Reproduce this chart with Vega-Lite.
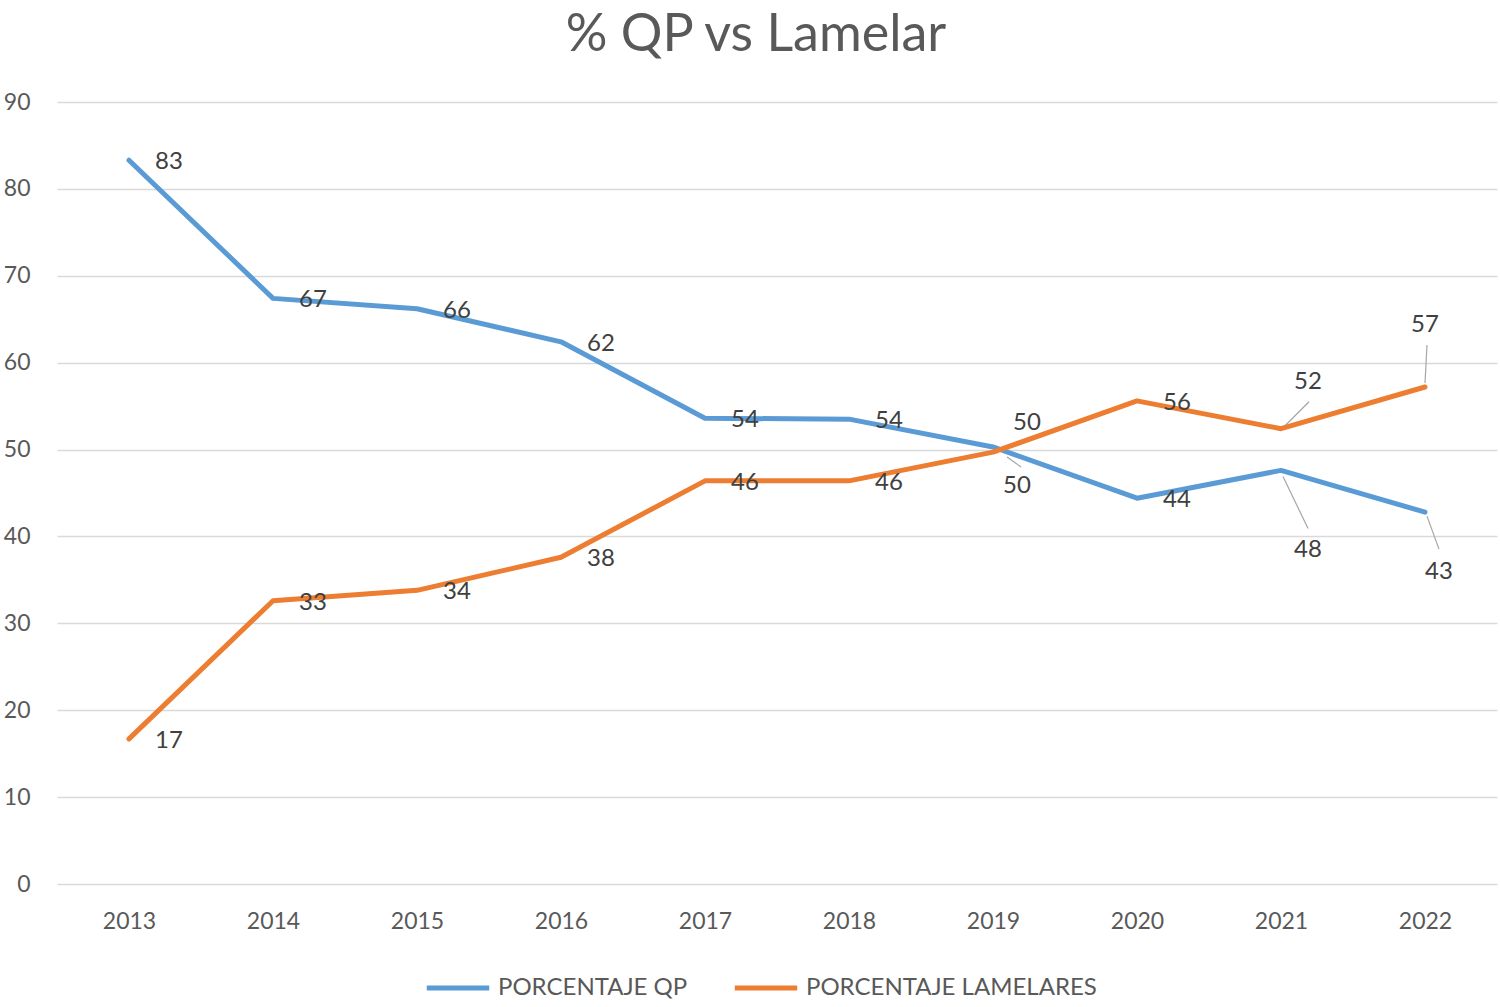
{
  "$schema": "https://vega.github.io/schema/vega-lite/v6.json",
  "width": 1440,
  "height": 782,
  "autosize": {"type": "none"},
  "padding": {"left": 57, "top": 102, "right": 3, "bottom": 123},
  "background": "white",
  "title": {"text": "% QP vs Lamelar", "fontSize": 52, "font": "Lato", "fontWeight": "normal", "color": "#595959", "anchor": "middle", "offset": 29, "dx": -21},
  "config": {
    "view": {"stroke": null},
    "font": "Lato",
    "axis": {"labelFont": "Lato", "labelColor": "#595959", "labelFontSize": 23, "ticks": false, "domain": false, "title": null},
    "legend": {"labelFont": "Lato", "labelColor": "#595959", "labelFontSize": 24, "labelLimit": 500}
  },
  "data": {"values": [
    {"year": "2013", "series": "PORCENTAJE QP", "value": 83.3},
    {"year": "2014", "series": "PORCENTAJE QP", "value": 67.4},
    {"year": "2015", "series": "PORCENTAJE QP", "value": 66.2},
    {"year": "2016", "series": "PORCENTAJE QP", "value": 62.4},
    {"year": "2017", "series": "PORCENTAJE QP", "value": 53.6},
    {"year": "2018", "series": "PORCENTAJE QP", "value": 53.5},
    {"year": "2019", "series": "PORCENTAJE QP", "value": 50.3},
    {"year": "2020", "series": "PORCENTAJE QP", "value": 44.4},
    {"year": "2021", "series": "PORCENTAJE QP", "value": 47.6},
    {"year": "2022", "series": "PORCENTAJE QP", "value": 42.8},
    {"year": "2013", "series": "PORCENTAJE LAMELARES", "value": 16.7},
    {"year": "2014", "series": "PORCENTAJE LAMELARES", "value": 32.6},
    {"year": "2015", "series": "PORCENTAJE LAMELARES", "value": 33.8},
    {"year": "2016", "series": "PORCENTAJE LAMELARES", "value": 37.6},
    {"year": "2017", "series": "PORCENTAJE LAMELARES", "value": 46.4},
    {"year": "2018", "series": "PORCENTAJE LAMELARES", "value": 46.4},
    {"year": "2019", "series": "PORCENTAJE LAMELARES", "value": 49.7},
    {"year": "2020", "series": "PORCENTAJE LAMELARES", "value": 55.6},
    {"year": "2021", "series": "PORCENTAJE LAMELARES", "value": 52.4},
    {"year": "2022", "series": "PORCENTAJE LAMELARES", "value": 57.2}
  ]},
  "encoding": {
    "x": {"field": "year", "type": "ordinal", "scale": {"type": "point", "padding": 0.5}, "axis": {"labelAngle": 0, "labelPadding": 26, "grid": false}},
    "y": {"field": "value", "type": "quantitative", "scale": {"domain": [0, 90], "nice": false}, "axis": {"values": [0,10,20,30,40,50,60,70,80,90], "grid": true, "gridColor": "#D9D9D9", "gridWidth": 1.5, "labelPadding": 27}}
  },
  "layer": [
    {"transform": [{"filter": "datum.series == 'PORCENTAJE QP' && datum.year == '2019'"}],
     "mark": {"type": "rule", "color": "#A6A6A6", "strokeWidth": 1.2, "xOffset": 14, "yOffset": 10, "x2Offset": 28, "y2Offset": 20},
     "encoding": {"x2": {"field": "year"}, "y2": {"field": "value"}}},
    {"transform": [{"filter": "datum.series == 'PORCENTAJE QP' && datum.year == '2021'"}],
     "mark": {"type": "rule", "color": "#A6A6A6", "strokeWidth": 1.2, "xOffset": 2, "yOffset": 6, "x2Offset": 27, "y2Offset": 58},
     "encoding": {"x2": {"field": "year"}, "y2": {"field": "value"}}},
    {"transform": [{"filter": "datum.series == 'PORCENTAJE QP' && datum.year == '2022'"}],
     "mark": {"type": "rule", "color": "#A6A6A6", "strokeWidth": 1.2, "xOffset": 2, "yOffset": 4, "x2Offset": 14, "y2Offset": 37},
     "encoding": {"x2": {"field": "year"}, "y2": {"field": "value"}}},
    {"transform": [{"filter": "datum.series == 'PORCENTAJE LAMELARES' && datum.year == '2021'"}],
     "mark": {"type": "rule", "color": "#A6A6A6", "strokeWidth": 1.2, "xOffset": 4, "yOffset": -3, "x2Offset": 28, "y2Offset": -27},
     "encoding": {"x2": {"field": "year"}, "y2": {"field": "value"}}},
    {"transform": [{"filter": "datum.series == 'PORCENTAJE LAMELARES' && datum.year == '2022'"}],
     "mark": {"type": "rule", "color": "#A6A6A6", "strokeWidth": 1.2, "xOffset": 0, "yOffset": -4, "x2Offset": 2, "y2Offset": -42},
     "encoding": {"x2": {"field": "year"}, "y2": {"field": "value"}}},
    {"mark": {"type": "line", "strokeWidth": 5, "strokeCap": "round", "strokeJoin": "round"},
     "encoding": {
       "color": {"field": "series", "type": "nominal", "scale": {"domain": ["PORCENTAJE QP", "PORCENTAJE LAMELARES"], "range": ["#5B9BD5", "#ED7D31"]},
         "legend": {"title": null, "orient": "none", "legendX": 367, "legendY": 852, "direction": "horizontal", "symbolType": "stroke", "symbolSize": 3900, "symbolStrokeWidth": 5, "columnPadding": 36, "labelOffset": 6}}
     }},
    {"transform": [{"filter": "datum.year != '2019' && datum.year != '2021' && datum.year != '2022'"}],
     "mark": {"type": "text", "fontSize": 24, "color": "#404040", "dx": 40, "dy": 2, "align": "center", "baseline": "middle"},
     "encoding": {"text": {"field": "value", "type": "quantitative", "format": ".0f"}}},
    {"transform": [{"filter": "datum.series == 'PORCENTAJE QP' && datum.year == '2019'"}],
     "mark": {"type": "text", "fontSize": 24, "color": "#404040", "dx": 24, "dy": 39, "align": "center", "baseline": "middle"},
     "encoding": {"text": {"field": "value", "type": "quantitative", "format": ".0f"}}},
    {"transform": [{"filter": "datum.series == 'PORCENTAJE LAMELARES' && datum.year == '2019'"}],
     "mark": {"type": "text", "fontSize": 24, "color": "#404040", "dx": 34, "dy": -29, "align": "center", "baseline": "middle"},
     "encoding": {"text": {"field": "value", "type": "quantitative", "format": ".0f"}}},
    {"transform": [{"filter": "datum.series == 'PORCENTAJE QP' && datum.year == '2021'"}],
     "mark": {"type": "text", "fontSize": 24, "color": "#404040", "dx": 27, "dy": 80, "align": "center", "baseline": "middle"},
     "encoding": {"text": {"field": "value", "type": "quantitative", "format": ".0f"}}},
    {"transform": [{"filter": "datum.series == 'PORCENTAJE LAMELARES' && datum.year == '2021'"}],
     "mark": {"type": "text", "fontSize": 24, "color": "#404040", "dx": 27, "dy": -47, "align": "center", "baseline": "middle"},
     "encoding": {"text": {"field": "value", "type": "quantitative", "format": ".0f"}}},
    {"transform": [{"filter": "datum.series == 'PORCENTAJE QP' && datum.year == '2022'"}],
     "mark": {"type": "text", "fontSize": 24, "color": "#404040", "dx": 14, "dy": 60, "align": "center", "baseline": "middle"},
     "encoding": {"text": {"field": "value", "type": "quantitative", "format": ".0f"}}},
    {"transform": [{"filter": "datum.series == 'PORCENTAJE LAMELARES' && datum.year == '2022'"}],
     "mark": {"type": "text", "fontSize": 24, "color": "#404040", "dx": 0, "dy": -62, "align": "center", "baseline": "middle"},
     "encoding": {"text": {"field": "value", "type": "quantitative", "format": ".0f"}}}
  ]
}
